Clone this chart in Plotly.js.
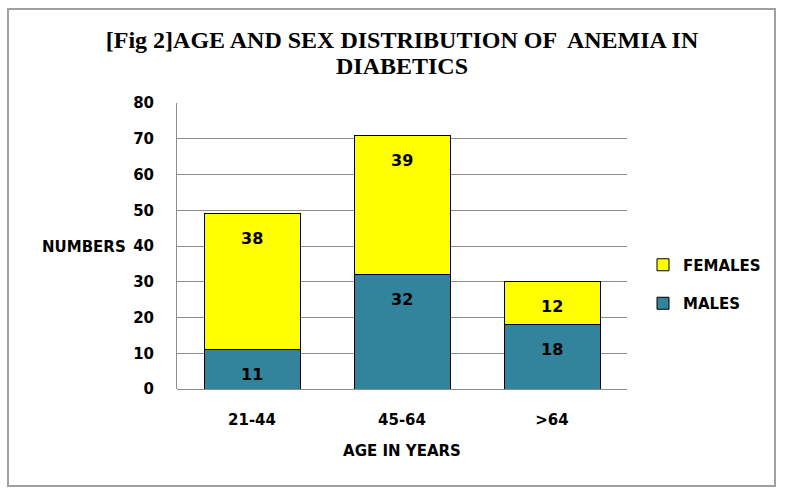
<!DOCTYPE html>
<html>
<head>
<meta charset="utf-8">
<script src="https://cdn.plot.ly/plotly-3.0.1.min.js"></script>
<style>html,body{margin:0;padding:0;background:#fff;}</style>
</head>
<body>
<div id="chart" style="width:785px;height:497px;"></div>
<script>
const categories = ['21-44', '45-64', '>64'];
const males = [11, 32, 18];
const females = [38, 39, 12];
const seriesNames = ['MALES', 'FEMALES'];
const yTicks = [0, 10, 20, 30, 40, 50, 60, 70, 80];
const titleLines = ['[Fig 2]AGE AND SEX DISTRIBUTION OF  ANEMIA IN', 'DIABETICS'];

const labelFont = {family: 'DejaVu Sans', size: 15, color: '#000', weight: 'bold'};
const valueFont = {family: 'DejaVu Sans', size: 16, color: '#000', weight: 'bold'};
const titleFont = {family: 'Liberation Serif', size: 24, color: '#000', weight: 'bold'};

const traces = [
  {
    type: 'bar', name: seriesNames[0], x: categories, y: males,
    legendgroup: 'm', legendrank: 2,
    marker: {color: '#31849B', line: {color: '#000', width: 1}}, hoverinfo: 'none'
  },
  {
    type: 'bar', name: seriesNames[1], x: categories, y: females,
    legendgroup: 'f', legendrank: 1,
    marker: {color: '#FFFF00', line: {color: '#000', width: 1}}, hoverinfo: 'none'
  }
];

const L = 177, R = 627, T = 103, B = 389, W = 785, H = 497;
const pw = R - L, ph = B - T;

// value labels placed a fixed distance below each segment's top
const valueLabels = [];
categories.forEach((c, i) => {
  valueLabels.push({x: c, y: males[i], text: String(males[i])});
  valueLabels.push({x: c, y: males[i] + females[i], text: String(females[i])});
});
const valueAnns = valueLabels.map(v => ({
  x: v.x, y: v.y, xref: 'x', yref: 'y', text: v.text, showarrow: false,
  xanchor: 'center', yanchor: 'middle', yshift: -25, font: valueFont
}));

const layout = {
  width: W, height: H,
  margin: {l: L, r: W - R, t: T, b: H - B, pad: 0},
  paper_bgcolor: '#fff', plot_bgcolor: '#fff',
  barmode: 'stack', bargap: 0.36,
  showlegend: true,
  title: {
    text: titleLines[0],
    font: titleFont,
    x: 0.5, xanchor: 'center', xref: 'paper',
    y: 1 - 40 / H, yanchor: 'middle', yref: 'container'
  },
  xaxis: {
    type: 'category', tickfont: labelFont, ticks: '', ticklabelstandoff: 20,
    showgrid: false, showline: false, zeroline: false, fixedrange: true,
    title: {text: 'AGE IN YEARS', font: labelFont, standoff: 17}
  },
  yaxis: {
    range: [0, 80], tickvals: yTicks, tickfont: labelFont, ticks: '',
    ticklabelstandoff: 19,
    showgrid: true, gridcolor: '#8c8c8c', gridwidth: 1,
    showline: true, linecolor: '#8c8c8c', linewidth: 1,
    zeroline: true, zerolinecolor: '#8c8c8c', zerolinewidth: 1, fixedrange: true
  },
  legend: {
    x: (643 - L) / pw, xanchor: 'left', y: (B - 284) / ph, yanchor: 'middle',
    font: labelFont, traceorder: 'grouped', tracegroupgap: 16,
    bgcolor: 'rgba(0,0,0,0)', itemwidth: 30
  },
  annotations: [
    {text: titleLines[1], xref: 'paper', yref: 'paper', x: 0.5, xanchor: 'center',
     y: (B - 66) / ph, yanchor: 'middle', showarrow: false, font: titleFont},
    {text: 'NUMBERS', xref: 'paper', yref: 'paper', x: (40 - L) / pw, xanchor: 'left',
     y: (B - 247) / ph, yanchor: 'middle', showarrow: false, font: labelFont}
  ].concat(valueAnns),
  shapes: [
    {type: 'rect', xref: 'paper', yref: 'paper', x0: (8 - L) / pw, x1: (775 - L) / pw,
     y0: (B - 486) / ph, y1: (B - 9) / ph, line: {color: '#a0a0a0', width: 2}, layer: 'below'}
  ]
};

Plotly.newPlot('chart', traces, layout, {displayModeBar: false, staticPlot: true});
</script>
</body>
</html>
